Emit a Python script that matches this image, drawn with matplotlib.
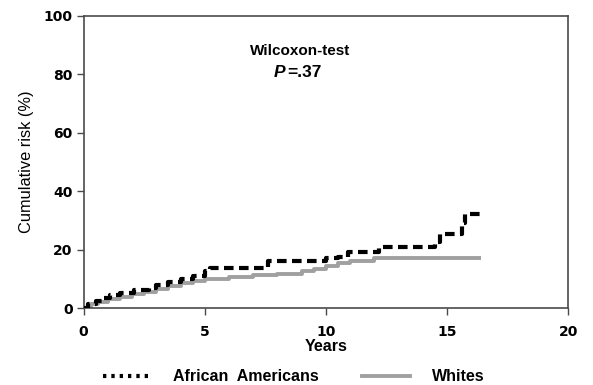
import matplotlib
matplotlib.use("Agg")
import matplotlib.pyplot as plt
from matplotlib.lines import Line2D

# step-function estimates (years, cumulative risk %)
aa_years = [0, 0.2, 0.5, 0.8, 1.1, 1.5, 2.1, 2.7, 3.0, 3.5, 4.0, 4.5, 5.0, 5.2,
            7.6, 10.0, 10.5, 10.9, 12.2, 14.5, 14.7, 15.6, 15.75, 16.4]
aa_risk = [0, 1.5, 2.5, 3.5, 4.5, 5.0, 6.0, 7.0, 8.0, 9.0, 10.0, 10.8, 12.5, 13.7,
           16.2, 17.0, 17.5, 19.2, 21.0, 22.5, 25.3, 29.0, 32.3, 32.3]

wh_years = [0, 0.3, 0.6, 1.0, 1.5, 2.0, 2.5, 3.0, 3.5, 4.0, 4.5, 5.0, 6.0, 7.0,
            8.0, 9.0, 9.5, 10.0, 10.5, 11.0, 12.0, 16.4]
wh_risk = [0, 1.2, 2.0, 3.0, 3.8, 4.8, 5.5, 6.5, 7.5, 8.5, 9.3, 10.0, 10.7, 11.2,
           11.8, 12.5, 13.5, 14.5, 15.5, 16.0, 17.0, 17.0]

x_ticks = [0, 5, 10, 15, 20]
y_ticks = [0, 20, 40, 60, 80, 100]

TICK_FONT = "DejaVu Sans"
TEXT_FONT = "Liberation Sans"
GRAY = "#a0a0a0"
FRAME = "#4a4a4a"

fig = plt.figure(figsize=(5.93, 3.85), dpi=100)
ax = fig.add_axes([0.141, 0.2, 0.817, 0.759])

ax.plot(wh_years, wh_risk, drawstyle="steps-post", color=GRAY, lw=2.8,
        solid_capstyle="butt", zorder=2)
ax.plot(aa_years, aa_risk, drawstyle="steps-post", color="black", lw=3.0,
        dashes=(2.3, 1.3), zorder=3)

ax.set_xlim(0, 20)
ax.set_ylim(0, 100)
ax.set_xticks(x_ticks)
ax.set_yticks(y_ticks)
ax.set_xticklabels([str(t) for t in x_ticks], family=TICK_FONT,
                   fontweight="bold", fontsize=10)
ax.set_yticklabels([str(t) for t in y_ticks], family=TICK_FONT,
                   fontweight="bold", fontsize=10)
ax.tick_params(direction="out", length=5, width=1.0, color=FRAME)
ax.tick_params(axis="x", pad=7)
ax.tick_params(axis="y", pad=3)
for s in ax.spines.values():
    s.set_color(FRAME)
    s.set_linewidth(1.2)

ax.set_xlabel("Years", family=TEXT_FONT, fontweight="bold", fontsize=11.5,
              labelpad=0)
ax.set_ylabel("Cumulative risk (%)", family=TEXT_FONT, fontsize=11.8,
              labelpad=7)

ax.text(0.447, 0.88, "Wilcoxon-test", transform=ax.transAxes, ha="center",
        va="center", family=TEXT_FONT, fontweight="bold", fontsize=11)
ax.text(0.417, 0.805, "P", transform=ax.transAxes, ha="right", va="center",
        family=TEXT_FONT, fontweight="bold", fontstyle="italic", fontsize=12.5)
ax.text(0.420, 0.805, "=.37", transform=ax.transAxes, ha="left", va="center",
        family=TEXT_FONT, fontweight="bold", fontsize=12.5)

handles = [Line2D([], [], color="black", lw=3.0, linestyle=(0, (0.8, 1.2))),
           Line2D([], [], color=GRAY, lw=2.8)]
fig.legend(handles, ["African  Americans", "Whites"], loc="lower center",
           bbox_to_anchor=(0.495, -0.035), ncol=2, frameon=False,
           prop={"family": TEXT_FONT, "weight": "bold", "size": 11.5},
           handlelength=3.0, handletextpad=1.4, columnspacing=2.7)

fig.savefig("out.png", dpi=100)
